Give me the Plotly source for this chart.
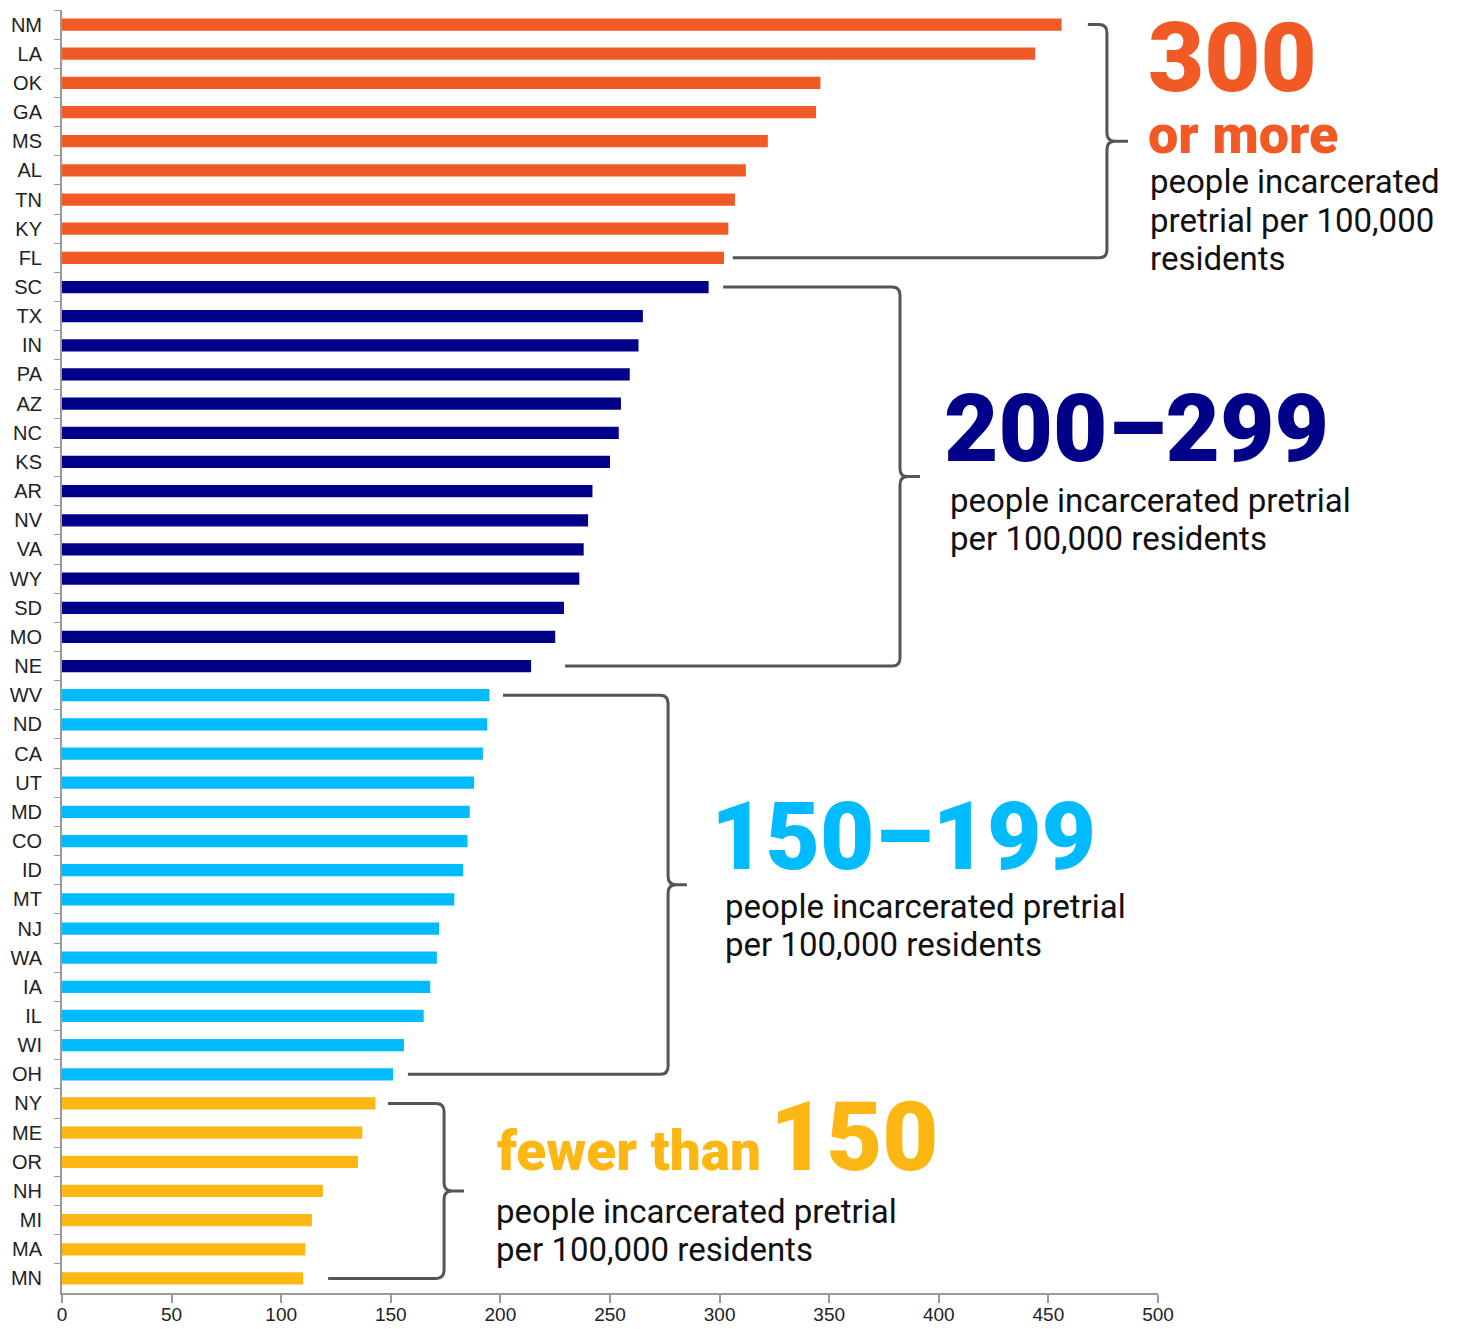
import plotly.graph_objects as go

# ---------------- data ----------------
states = ["NM", "LA", "OK", "GA", "MS", "AL", "TN", "KY", "FL",
          "SC", "TX", "IN", "PA", "AZ", "NC", "KS", "AR", "NV", "VA", "WY", "SD", "MO", "NE",
          "WV", "ND", "CA", "UT", "MD", "CO", "ID", "MT", "NJ", "WA", "IA", "IL", "WI", "OH",
          "NY", "ME", "OR", "NH", "MI", "MA", "MN"]
rates = [456, 444, 346, 344, 322, 312, 307, 304, 302,
         295, 265, 263, 259, 255, 254, 250, 242, 240, 238, 236, 229, 225, 214,
         195, 194, 192, 188, 186, 185, 183, 179, 172, 171, 168, 165, 156, 151,
         143, 137, 135, 119, 114, 111, 110]
x_ticks = [0, 50, 100, 150, 200, 250, 300, 350, 400, 450, 500]

group_min = [300, 200, 150, 0]
group_colors = ["#F15A24", "#000088", "#00BBFF", "#FDB714"]
group_head = ["300", "200–299", "150–199", "150"]

def group_of(v):
    for i, m in enumerate(group_min):
        if v >= m:
            return i
    return len(group_min) - 1

groups = [group_of(v) for v in rates]
colors = [group_colors[g] for g in groups]

# ---------------- layout geometry (page pixels) ----------------
PAGE_W, PAGE_H = 1457, 1329
OFF = 8                      # default body margin of the html page
W, H = PAGE_W - OFF, PAGE_H - OFF
AX_L, AX_R, AX_T, AX_B = 62, 1158, 10, 1293   # plot area in page pixels
ML, MT = AX_L - OFF, AX_T - OFF
MR = W - ML - (AX_R - AX_L)
MB = H - MT - (AX_B - AX_T)
PW, PH = AX_R - AX_L, AX_B - AX_T

def px(xp):
    return (xp - AX_L) / PW

def py(yp):
    return (AX_B - yp) / PH

fig = go.Figure(go.Bar(
    x=rates, y=states, orientation="h",
    marker=dict(color=colors, line=dict(width=0)),
    hoverinfo="x+y",
))

# brackets: (top start x, bottom start x, vertical x, cusp x) in data units
bracket_x = [(468, 306, 476.7, 486.3),
             (301.6, 229.5, 382.3, 391.4),
             (201.2, 157.8, 276.5, 285.1),
             (148.7, 121.4, 174.3, 183.4)]
rx, ry = 3.6, 0.28
shapes = []
for g, (xt, xb, xv, xc) in enumerate(bracket_x):
    idx = [i for i, gg in enumerate(groups) if gg == g]
    yt, yb = idx[0], idx[-1]
    ym = (yt + yb) / 2
    path = (f"M {xt},{yt} L {xv-rx},{yt} Q {xv},{yt} {xv},{yt+ry} "
            f"L {xv},{ym-ry} Q {xv},{ym} {xv+rx},{ym} L {xc},{ym} "
            f"M {xv+rx},{ym} Q {xv},{ym} {xv},{ym+ry} "
            f"L {xv},{yb-ry} Q {xv},{yb} {xv-rx},{yb} L {xb},{yb}")
    shapes.append(dict(type="path", path=path, xref="x", yref="y",
                       line=dict(color="#555555", width=3)))

BIG = dict(family="Roboto", size=97, weight=900)
MID = dict(family="Roboto", size=94, weight=900)
BODY = dict(family="Roboto", size=33, color="#111111")

annotations = [
    dict(text=group_head[0], x=px(1146), y=py(58), font=dict(**BIG, color=group_colors[0])),
    dict(text="or more", x=px(1146), y=py(134),
         font=dict(family="Roboto", size=54, weight=900, color=group_colors[0])),
    dict(text=group_head[1], x=px(942), y=py(429), font=dict(**MID, color=group_colors[1])),
    dict(text=group_head[2], x=px(709), y=py(837), font=dict(**MID, color=group_colors[2])),
    dict(text="<span style='font-size:55px'>fewer than</span><span style='font-size:36px'> </span>"
         + group_head[3],
         x=px(495), y=py(1137), font=dict(**BIG, color=group_colors[3])),
]
body_lines = [
    (1148, [182, 220, 258], ["people incarcerated", "pretrial per 100,000", "residents"]),
    (948, [500, 538], ["people incarcerated pretrial", "per 100,000 residents"]),
    (723, [906, 944], ["people incarcerated pretrial", "per 100,000 residents"]),
    (494, [1211, 1249], ["people incarcerated pretrial", "per 100,000 residents"]),
]
for xl, ys, lines in body_lines:
    for yy, t in zip(ys, lines):
        annotations.append(dict(text=t, x=px(xl), y=py(yy), font=BODY))

for a in annotations:
    a.update(xref="paper", yref="paper", xanchor="left", yanchor="middle",
             showarrow=False, align="left")

TICKFONT = dict(family="Liberation Sans, Arial", size=20, color="#222222")

fig.update_layout(
    width=W, height=H,
    margin=dict(l=ML, r=MR, t=MT, b=MB, pad=0),
    paper_bgcolor="white", plot_bgcolor="white",
    bargap=0.58,
    showlegend=False,
    shapes=shapes,
    annotations=annotations,
    xaxis=dict(range=[0, 500], tickvals=x_ticks, showgrid=False, zeroline=False,
               automargin=False,
               showline=True, linecolor="#999999", linewidth=2,
               ticks="outside", ticklen=8, tickcolor="#999999", tickwidth=2,
               ticklabelstandoff=-5, tickfont=dict(TICKFONT, size=19)),
    yaxis=dict(type="category", categoryorder="array", categoryarray=states,
               autorange="reversed", showgrid=False, zeroline=False,
               automargin=False,
               showline=True, linecolor="#999999", linewidth=2,
               ticks="outside", tickson="boundaries", ticklen=6, tickcolor="#999999", tickwidth=1,
               ticklabelstandoff=14, tickfont=TICKFONT),
)

fig.write_html("out.html")
